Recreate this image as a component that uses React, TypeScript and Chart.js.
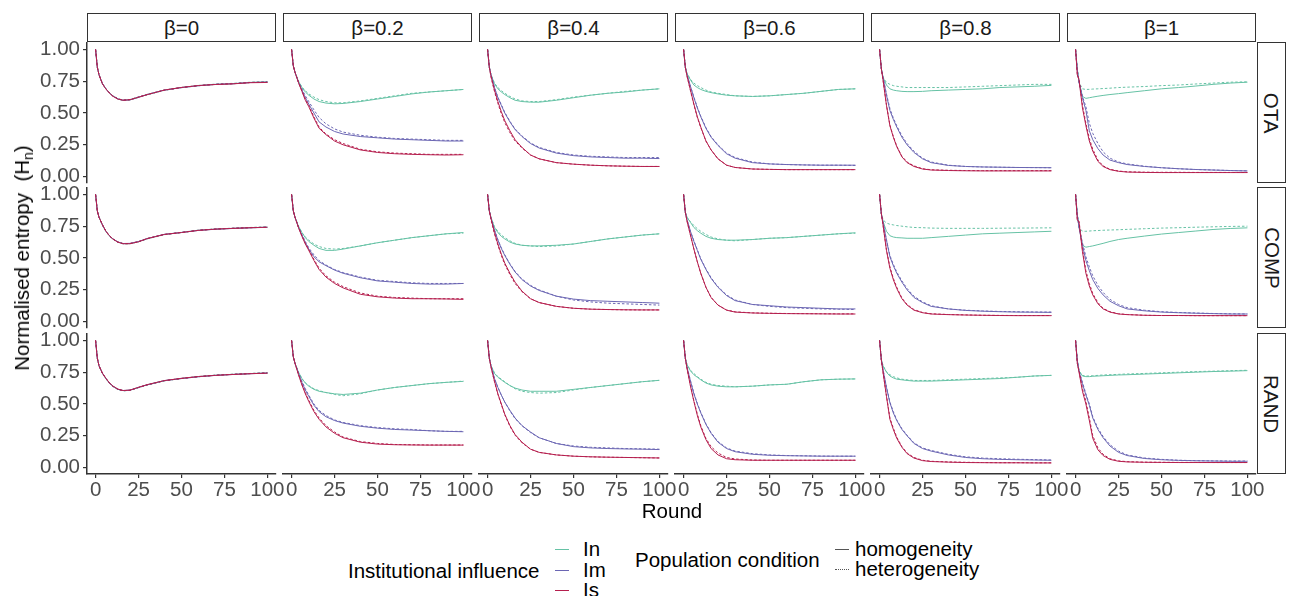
import React, { useEffect, useRef } from "react";
import { Chart, registerables } from "chart.js";
Chart.register(...registerables);

// ---------------- data ----------------
const rounds = [0, 1, 2, 4, 6, 8, 10, 13, 16, 20, 25, 30, 40, 50, 60, 70, 80, 90, 100];
const betaLabels = ["β=0", "β=0.2", "β=0.4", "β=0.6", "β=0.8", "β=1"];
const conditionLabels = ["OTA", "COMP", "RAND"];
const influenceLabels = ["In", "Im", "Is"];
const populationLabels = ["homogeneity", "heterogeneity"];
const xTickValues = [0, 25, 50, 75, 100];
const yTickValues = [0, 0.25, 0.5, 0.75, 1];

// ---- OTA ----
const OTA_b0_In_hom = [1.0, 0.86, 0.8, 0.73, 0.69, 0.66, 0.635, 0.61, 0.6, 0.605, 0.625, 0.645, 0.68, 0.7, 0.715, 0.725, 0.73, 0.74, 0.745];
const OTA_b0_In_het = [1.0, 0.86, 0.8, 0.73, 0.69, 0.66, 0.635, 0.612, 0.598, 0.602, 0.622, 0.643, 0.678, 0.7, 0.717, 0.727, 0.733, 0.742, 0.745];
const OTA_b0_Im_hom = [1.0, 0.86, 0.8, 0.73, 0.69, 0.658, 0.633, 0.61, 0.6, 0.603, 0.623, 0.645, 0.68, 0.7, 0.715, 0.725, 0.73, 0.74, 0.742];
const OTA_b0_Im_het = [1.0, 0.86, 0.8, 0.73, 0.69, 0.66, 0.636, 0.612, 0.602, 0.606, 0.626, 0.646, 0.679, 0.699, 0.714, 0.726, 0.731, 0.739, 0.744];
const OTA_b0_Is_hom = [1.0, 0.86, 0.8, 0.728, 0.688, 0.657, 0.632, 0.609, 0.6, 0.604, 0.624, 0.644, 0.68, 0.701, 0.716, 0.724, 0.729, 0.738, 0.74];
const OTA_b0_Is_het = [1.0, 0.86, 0.8, 0.73, 0.69, 0.66, 0.634, 0.611, 0.601, 0.605, 0.625, 0.645, 0.68, 0.7, 0.715, 0.725, 0.73, 0.74, 0.742];

const OTA_b02_In_hom = [1.0, 0.87, 0.82, 0.75, 0.7, 0.665, 0.64, 0.61, 0.59, 0.578, 0.572, 0.575, 0.59, 0.61, 0.63, 0.65, 0.665, 0.675, 0.685];
const OTA_b02_In_het = [1.0, 0.87, 0.82, 0.75, 0.705, 0.675, 0.65, 0.625, 0.605, 0.59, 0.58, 0.58, 0.595, 0.615, 0.635, 0.655, 0.665, 0.675, 0.685];
const OTA_b02_Im_hom = [1.0, 0.87, 0.82, 0.74, 0.68, 0.62, 0.57, 0.5, 0.43, 0.39, 0.355, 0.335, 0.315, 0.305, 0.295, 0.29, 0.285, 0.28, 0.28];
const OTA_b02_Im_het = [1.0, 0.87, 0.82, 0.745, 0.69, 0.635, 0.59, 0.525, 0.465, 0.415, 0.375, 0.35, 0.325, 0.31, 0.3, 0.295, 0.29, 0.285, 0.285];
const OTA_b02_Is_hom = [1.0, 0.87, 0.82, 0.74, 0.67, 0.6, 0.55, 0.46, 0.38, 0.33, 0.28, 0.25, 0.21, 0.19, 0.18, 0.175, 0.172, 0.17, 0.172];
const OTA_b02_Is_het = [1.0, 0.87, 0.82, 0.74, 0.675, 0.61, 0.56, 0.47, 0.39, 0.335, 0.29, 0.26, 0.215, 0.195, 0.185, 0.18, 0.175, 0.175, 0.175];

const OTA_b04_In_hom = [1.0, 0.86, 0.8, 0.73, 0.69, 0.665, 0.645, 0.62, 0.6, 0.59, 0.585, 0.585, 0.6, 0.62, 0.64, 0.655, 0.665, 0.68, 0.69];
const OTA_b04_In_het = [1.0, 0.86, 0.8, 0.735, 0.7, 0.675, 0.655, 0.63, 0.61, 0.595, 0.59, 0.59, 0.605, 0.625, 0.64, 0.655, 0.67, 0.68, 0.69];
const OTA_b04_Im_hom = [1.0, 0.86, 0.8, 0.7, 0.62, 0.56, 0.5, 0.43, 0.37, 0.315, 0.26, 0.225, 0.185, 0.165, 0.155, 0.15, 0.145, 0.145, 0.142];
const OTA_b04_Im_het = [1.0, 0.86, 0.8, 0.7, 0.625, 0.565, 0.505, 0.435, 0.375, 0.32, 0.265, 0.23, 0.19, 0.17, 0.16, 0.155, 0.15, 0.15, 0.15];
const OTA_b04_Is_hom = [1.0, 0.86, 0.79, 0.68, 0.59, 0.51, 0.44, 0.36, 0.29, 0.23, 0.17, 0.14, 0.11, 0.098, 0.09, 0.085, 0.082, 0.08, 0.08];
const OTA_b04_Is_het = [1.0, 0.86, 0.78, 0.67, 0.575, 0.495, 0.425, 0.345, 0.28, 0.225, 0.17, 0.14, 0.11, 0.098, 0.09, 0.085, 0.082, 0.08, 0.08];

const OTA_b06_In_hom = [1.0, 0.86, 0.81, 0.76, 0.72, 0.7, 0.685, 0.67, 0.66, 0.65, 0.64, 0.635, 0.63, 0.635, 0.645, 0.655, 0.67, 0.685, 0.69];
const OTA_b06_In_het = [1.0, 0.86, 0.81, 0.765, 0.735, 0.715, 0.7, 0.68, 0.665, 0.655, 0.645, 0.635, 0.63, 0.635, 0.645, 0.655, 0.67, 0.685, 0.69];
const OTA_b06_Im_hom = [1.0, 0.86, 0.8, 0.71, 0.62, 0.54, 0.47, 0.38, 0.31, 0.245, 0.18, 0.145, 0.11, 0.1, 0.095, 0.092, 0.09, 0.09, 0.09];
const OTA_b06_Im_het = [1.0, 0.86, 0.8, 0.71, 0.625, 0.545, 0.475, 0.385, 0.315, 0.25, 0.185, 0.15, 0.115, 0.1, 0.095, 0.092, 0.09, 0.09, 0.088];
const OTA_b06_Is_hom = [1.0, 0.86, 0.79, 0.68, 0.57, 0.47, 0.39, 0.28, 0.21, 0.14, 0.09, 0.072, 0.06, 0.057, 0.055, 0.055, 0.055, 0.055, 0.055];
const OTA_b06_Is_het = [1.0, 0.86, 0.79, 0.675, 0.565, 0.465, 0.385, 0.28, 0.21, 0.14, 0.09, 0.072, 0.06, 0.057, 0.055, 0.055, 0.055, 0.055, 0.055];

const OTA_b08_In_hom = [1.0, 0.85, 0.78, 0.72, 0.69, 0.68, 0.675, 0.67, 0.668, 0.668, 0.67, 0.675, 0.68, 0.685, 0.69, 0.7, 0.705, 0.71, 0.717];
const OTA_b08_In_het = [1.0, 0.85, 0.78, 0.74, 0.725, 0.715, 0.71, 0.705, 0.7, 0.7, 0.7, 0.7, 0.7, 0.705, 0.71, 0.715, 0.72, 0.725, 0.725];
const OTA_b08_Im_hom = [1.0, 0.85, 0.78, 0.64, 0.52, 0.45, 0.39, 0.31, 0.25, 0.19, 0.14, 0.11, 0.088, 0.08, 0.076, 0.074, 0.072, 0.071, 0.07];
const OTA_b08_Im_het = [1.0, 0.85, 0.78, 0.65, 0.535, 0.46, 0.4, 0.32, 0.26, 0.2, 0.145, 0.115, 0.09, 0.08, 0.076, 0.074, 0.072, 0.071, 0.07];
const OTA_b08_Is_hom = [1.0, 0.85, 0.76, 0.56, 0.4, 0.31, 0.235, 0.155, 0.11, 0.08, 0.06, 0.052, 0.048, 0.046, 0.045, 0.045, 0.045, 0.045, 0.045];
const OTA_b08_Is_het = [1.0, 0.85, 0.76, 0.565, 0.405, 0.315, 0.24, 0.16, 0.115, 0.085, 0.062, 0.054, 0.05, 0.048, 0.047, 0.047, 0.047, 0.047, 0.047];

const OTA_b1_In_hom = [1.0, 0.84, 0.75, 0.63, 0.615, 0.62, 0.625, 0.632, 0.638, 0.645, 0.652, 0.66, 0.675, 0.69, 0.7, 0.712, 0.725, 0.735, 0.742];
const OTA_b1_In_het = [1.0, 0.84, 0.74, 0.69, 0.685, 0.686, 0.688, 0.69, 0.692, 0.695, 0.7, 0.703, 0.708, 0.715, 0.72, 0.728, 0.735, 0.742, 0.745];
const OTA_b1_Im_hom = [1.0, 0.84, 0.74, 0.62, 0.52, 0.36, 0.29, 0.22, 0.17, 0.13, 0.11, 0.095, 0.08, 0.07, 0.062, 0.056, 0.052, 0.048, 0.045];
const OTA_b1_Im_het = [1.0, 0.84, 0.74, 0.63, 0.55, 0.42, 0.34, 0.26, 0.195, 0.145, 0.115, 0.1, 0.082, 0.07, 0.062, 0.056, 0.052, 0.048, 0.045];
const OTA_b1_Is_hom = [1.0, 0.8, 0.76, 0.54, 0.4, 0.28, 0.2, 0.12, 0.08, 0.055, 0.042, 0.036, 0.033, 0.032, 0.032, 0.032, 0.032, 0.032, 0.032];
const OTA_b1_Is_het = [1.0, 0.8, 0.77, 0.56, 0.42, 0.3, 0.215, 0.13, 0.085, 0.058, 0.044, 0.038, 0.035, 0.034, 0.034, 0.033, 0.033, 0.033, 0.033];

// ---- COMP ----
const COMP_b0_In_hom = [1.0, 0.87, 0.82, 0.76, 0.71, 0.675, 0.65, 0.625, 0.613, 0.613, 0.628, 0.652, 0.685, 0.7, 0.718, 0.727, 0.733, 0.738, 0.742];
const COMP_b0_In_het = [1.0, 0.87, 0.82, 0.758, 0.708, 0.673, 0.648, 0.623, 0.611, 0.612, 0.627, 0.65, 0.683, 0.702, 0.719, 0.728, 0.734, 0.74, 0.744];
const COMP_b0_Im_hom = [1.0, 0.87, 0.82, 0.76, 0.71, 0.676, 0.651, 0.626, 0.614, 0.615, 0.63, 0.653, 0.686, 0.701, 0.717, 0.726, 0.732, 0.737, 0.741];
const COMP_b0_Im_het = [1.0, 0.87, 0.82, 0.759, 0.709, 0.674, 0.649, 0.624, 0.612, 0.613, 0.628, 0.651, 0.684, 0.7, 0.718, 0.728, 0.734, 0.739, 0.743];
const COMP_b0_Is_hom = [1.0, 0.87, 0.82, 0.761, 0.711, 0.676, 0.65, 0.624, 0.612, 0.612, 0.627, 0.652, 0.685, 0.7, 0.717, 0.727, 0.733, 0.738, 0.742];
const COMP_b0_Is_het = [1.0, 0.87, 0.82, 0.76, 0.71, 0.675, 0.65, 0.625, 0.613, 0.614, 0.629, 0.653, 0.685, 0.701, 0.718, 0.727, 0.733, 0.738, 0.741];

const COMP_b02_In_hom = [1.0, 0.87, 0.82, 0.75, 0.7, 0.66, 0.63, 0.6, 0.575, 0.56, 0.56, 0.57, 0.595, 0.62, 0.64, 0.66, 0.675, 0.69, 0.7];
const COMP_b02_In_het = [1.0, 0.87, 0.82, 0.75, 0.7, 0.665, 0.64, 0.61, 0.59, 0.575, 0.57, 0.575, 0.595, 0.62, 0.64, 0.66, 0.675, 0.69, 0.695];
const COMP_b02_Im_hom = [1.0, 0.87, 0.82, 0.74, 0.68, 0.62, 0.57, 0.51, 0.47, 0.44, 0.405, 0.38, 0.345, 0.32, 0.31, 0.3, 0.295, 0.295, 0.3];
const COMP_b02_Im_het = [1.0, 0.87, 0.82, 0.745, 0.685, 0.63, 0.58, 0.525, 0.48, 0.445, 0.41, 0.385, 0.35, 0.325, 0.315, 0.305, 0.3, 0.3, 0.3];
const COMP_b02_Is_hom = [1.0, 0.87, 0.82, 0.74, 0.67, 0.61, 0.56, 0.48, 0.41, 0.35, 0.3, 0.265, 0.215, 0.195, 0.185, 0.18, 0.18, 0.178, 0.175];
const COMP_b02_Is_het = [1.0, 0.87, 0.82, 0.74, 0.675, 0.615, 0.565, 0.49, 0.42, 0.36, 0.31, 0.275, 0.225, 0.2, 0.19, 0.185, 0.18, 0.18, 0.18];

const COMP_b04_In_hom = [1.0, 0.87, 0.82, 0.74, 0.7, 0.67, 0.65, 0.625, 0.61, 0.6, 0.595, 0.595, 0.6, 0.61, 0.63, 0.65, 0.665, 0.68, 0.69];
const COMP_b04_In_het = [1.0, 0.87, 0.82, 0.745, 0.71, 0.68, 0.66, 0.635, 0.615, 0.6, 0.595, 0.59, 0.595, 0.61, 0.63, 0.65, 0.665, 0.68, 0.69];
const COMP_b04_Im_hom = [1.0, 0.87, 0.81, 0.72, 0.64, 0.575, 0.52, 0.45, 0.39, 0.33, 0.28, 0.245, 0.2, 0.177, 0.165, 0.16, 0.155, 0.15, 0.145];
const COMP_b04_Im_het = [1.0, 0.87, 0.81, 0.72, 0.645, 0.58, 0.525, 0.455, 0.395, 0.335, 0.285, 0.25, 0.2, 0.17, 0.155, 0.145, 0.14, 0.135, 0.13];
const COMP_b04_Is_hom = [1.0, 0.87, 0.81, 0.7, 0.61, 0.53, 0.46, 0.38, 0.31, 0.24, 0.18, 0.15, 0.12, 0.105, 0.098, 0.095, 0.093, 0.092, 0.092];
const COMP_b04_Is_het = [1.0, 0.87, 0.8, 0.69, 0.6, 0.52, 0.45, 0.37, 0.3, 0.235, 0.18, 0.15, 0.12, 0.105, 0.098, 0.095, 0.093, 0.092, 0.092];

const COMP_b06_In_hom = [1.0, 0.86, 0.82, 0.78, 0.74, 0.715, 0.695, 0.67, 0.655, 0.645, 0.64, 0.64, 0.645, 0.655, 0.66, 0.67, 0.68, 0.69, 0.698];
const COMP_b06_In_het = [1.0, 0.86, 0.82, 0.785, 0.755, 0.73, 0.71, 0.685, 0.665, 0.65, 0.64, 0.635, 0.645, 0.655, 0.66, 0.67, 0.68, 0.69, 0.695];
const COMP_b06_Im_hom = [1.0, 0.86, 0.8, 0.71, 0.63, 0.56, 0.49, 0.41, 0.34, 0.27, 0.205, 0.165, 0.135, 0.125, 0.115, 0.11, 0.105, 0.1, 0.1];
const COMP_b06_Im_het = [1.0, 0.86, 0.8, 0.71, 0.635, 0.565, 0.495, 0.415, 0.345, 0.275, 0.21, 0.17, 0.135, 0.12, 0.11, 0.105, 0.1, 0.098, 0.095];
const COMP_b06_Is_hom = [1.0, 0.86, 0.79, 0.68, 0.57, 0.47, 0.38, 0.27, 0.19, 0.13, 0.09, 0.075, 0.068, 0.065, 0.063, 0.062, 0.061, 0.06, 0.06];
const COMP_b06_Is_het = [1.0, 0.86, 0.79, 0.68, 0.57, 0.47, 0.38, 0.27, 0.19, 0.13, 0.092, 0.077, 0.069, 0.066, 0.064, 0.063, 0.062, 0.061, 0.061];

const COMP_b08_In_hom = [1.0, 0.85, 0.79, 0.71, 0.675, 0.665, 0.66, 0.658, 0.655, 0.655, 0.655, 0.66, 0.67, 0.68, 0.69, 0.695, 0.7, 0.705, 0.71];
const COMP_b08_In_het = [1.0, 0.85, 0.8, 0.775, 0.765, 0.76, 0.755, 0.75, 0.745, 0.74, 0.738, 0.735, 0.733, 0.733, 0.733, 0.734, 0.735, 0.736, 0.737];
const COMP_b08_Im_hom = [1.0, 0.85, 0.78, 0.64, 0.51, 0.44, 0.38, 0.31, 0.25, 0.19, 0.15, 0.12, 0.1, 0.088, 0.082, 0.078, 0.075, 0.074, 0.073];
const COMP_b08_Im_het = [1.0, 0.85, 0.78, 0.645, 0.52, 0.45, 0.39, 0.32, 0.26, 0.2, 0.155, 0.125, 0.1, 0.09, 0.084, 0.08, 0.078, 0.076, 0.075];
const COMP_b08_Is_hom = [1.0, 0.85, 0.76, 0.56, 0.42, 0.33, 0.26, 0.18, 0.13, 0.09, 0.07, 0.06, 0.055, 0.052, 0.05, 0.048, 0.047, 0.047, 0.047];
const COMP_b08_Is_het = [1.0, 0.85, 0.76, 0.565, 0.43, 0.34, 0.27, 0.185, 0.135, 0.095, 0.072, 0.062, 0.056, 0.053, 0.05, 0.049, 0.048, 0.048, 0.048];

const COMP_b1_In_hom = [1.0, 0.84, 0.75, 0.6, 0.585, 0.59, 0.595, 0.605, 0.615, 0.63, 0.645, 0.655, 0.672, 0.688, 0.7, 0.712, 0.724, 0.732, 0.737];
const COMP_b1_In_het = [1.0, 0.84, 0.74, 0.71, 0.71, 0.712, 0.714, 0.716, 0.718, 0.72, 0.722, 0.725, 0.73, 0.735, 0.738, 0.742, 0.745, 0.748, 0.75];
const COMP_b1_Im_hom = [1.0, 0.84, 0.74, 0.6, 0.48, 0.4, 0.33, 0.26, 0.21, 0.16, 0.125, 0.1, 0.085, 0.075, 0.07, 0.066, 0.063, 0.06, 0.06];
const COMP_b1_Im_het = [1.0, 0.84, 0.74, 0.62, 0.51, 0.43, 0.36, 0.285, 0.23, 0.175, 0.135, 0.11, 0.09, 0.078, 0.072, 0.068, 0.064, 0.062, 0.06];
const COMP_b1_Is_hom = [1.0, 0.8, 0.78, 0.55, 0.38, 0.28, 0.21, 0.14, 0.1, 0.075, 0.06, 0.055, 0.05, 0.048, 0.048, 0.047, 0.047, 0.047, 0.047];
const COMP_b1_Is_het = [1.0, 0.8, 0.79, 0.57, 0.4, 0.3, 0.22, 0.15, 0.105, 0.078, 0.062, 0.056, 0.05, 0.048, 0.048, 0.047, 0.047, 0.047, 0.047];

// ---- RAND ----
const RAND_b0_In_hom = [1.0, 0.86, 0.8, 0.74, 0.7, 0.665, 0.64, 0.615, 0.605, 0.608, 0.63, 0.65, 0.683, 0.7, 0.715, 0.726, 0.733, 0.739, 0.744];
const RAND_b0_In_het = [1.0, 0.86, 0.8, 0.738, 0.698, 0.663, 0.638, 0.613, 0.603, 0.607, 0.628, 0.649, 0.682, 0.701, 0.716, 0.727, 0.734, 0.74, 0.745];
const RAND_b0_Im_hom = [1.0, 0.86, 0.8, 0.741, 0.701, 0.666, 0.641, 0.616, 0.606, 0.609, 0.631, 0.651, 0.684, 0.7, 0.714, 0.725, 0.732, 0.738, 0.743];
const RAND_b0_Im_het = [1.0, 0.86, 0.8, 0.74, 0.7, 0.664, 0.639, 0.614, 0.604, 0.608, 0.629, 0.65, 0.683, 0.701, 0.715, 0.726, 0.733, 0.739, 0.744];
const RAND_b0_Is_hom = [1.0, 0.86, 0.8, 0.742, 0.702, 0.667, 0.642, 0.617, 0.606, 0.609, 0.631, 0.652, 0.684, 0.702, 0.716, 0.725, 0.732, 0.738, 0.742];
const RAND_b0_Is_het = [1.0, 0.86, 0.8, 0.74, 0.7, 0.665, 0.64, 0.615, 0.605, 0.608, 0.63, 0.65, 0.683, 0.7, 0.715, 0.726, 0.733, 0.739, 0.744];

const RAND_b02_In_hom = [1.0, 0.87, 0.82, 0.75, 0.7, 0.665, 0.64, 0.615, 0.6, 0.59, 0.58, 0.575, 0.585, 0.61, 0.63, 0.645, 0.66, 0.67, 0.678];
const RAND_b02_In_het = [1.0, 0.87, 0.82, 0.75, 0.7, 0.665, 0.645, 0.62, 0.605, 0.59, 0.575, 0.565, 0.58, 0.61, 0.63, 0.645, 0.66, 0.67, 0.68];
const RAND_b02_Im_hom = [1.0, 0.87, 0.82, 0.74, 0.67, 0.61, 0.56, 0.49, 0.44, 0.4, 0.37, 0.35, 0.325, 0.31, 0.3, 0.295, 0.29, 0.285, 0.282];
const RAND_b02_Im_het = [1.0, 0.87, 0.82, 0.745, 0.68, 0.62, 0.57, 0.5, 0.45, 0.41, 0.375, 0.355, 0.33, 0.315, 0.305, 0.3, 0.29, 0.285, 0.285];
const RAND_b02_Is_hom = [1.0, 0.87, 0.82, 0.73, 0.65, 0.58, 0.52, 0.44, 0.38, 0.32, 0.27, 0.235, 0.2, 0.185, 0.18, 0.178, 0.177, 0.177, 0.177];
const RAND_b02_Is_het = [1.0, 0.87, 0.82, 0.735, 0.655, 0.59, 0.53, 0.45, 0.39, 0.33, 0.28, 0.24, 0.205, 0.19, 0.182, 0.18, 0.178, 0.178, 0.178];

const RAND_b04_In_hom = [1.0, 0.86, 0.8, 0.74, 0.71, 0.69, 0.67, 0.645, 0.625, 0.61, 0.6, 0.6, 0.6, 0.615, 0.63, 0.645, 0.66, 0.675, 0.686];
const RAND_b04_In_het = [1.0, 0.86, 0.8, 0.745, 0.715, 0.695, 0.675, 0.645, 0.62, 0.6, 0.59, 0.585, 0.59, 0.61, 0.63, 0.645, 0.66, 0.675, 0.686];
const RAND_b04_Im_hom = [1.0, 0.86, 0.8, 0.7, 0.63, 0.57, 0.515, 0.45, 0.39, 0.33, 0.28, 0.235, 0.19, 0.165, 0.155, 0.15, 0.147, 0.145, 0.142];
const RAND_b04_Im_het = [1.0, 0.86, 0.8, 0.7, 0.63, 0.57, 0.515, 0.445, 0.385, 0.33, 0.275, 0.235, 0.19, 0.17, 0.16, 0.155, 0.15, 0.148, 0.145];
const RAND_b04_Is_hom = [1.0, 0.86, 0.79, 0.68, 0.58, 0.5, 0.42, 0.33, 0.26, 0.2, 0.145, 0.12, 0.1, 0.09, 0.085, 0.082, 0.08, 0.078, 0.076];
const RAND_b04_Is_het = [1.0, 0.86, 0.79, 0.675, 0.575, 0.495, 0.415, 0.325, 0.255, 0.195, 0.145, 0.12, 0.1, 0.09, 0.085, 0.082, 0.08, 0.078, 0.076];

const RAND_b06_In_hom = [1.0, 0.86, 0.81, 0.76, 0.73, 0.71, 0.69, 0.665, 0.65, 0.64, 0.635, 0.635, 0.64, 0.65, 0.655, 0.675, 0.69, 0.695, 0.697];
const RAND_b06_In_het = [1.0, 0.86, 0.81, 0.765, 0.74, 0.715, 0.695, 0.67, 0.655, 0.645, 0.64, 0.635, 0.64, 0.65, 0.655, 0.675, 0.69, 0.695, 0.697];
const RAND_b06_Im_hom = [1.0, 0.86, 0.79, 0.68, 0.58, 0.5, 0.43, 0.34, 0.27, 0.2, 0.15, 0.125, 0.105, 0.097, 0.094, 0.092, 0.09, 0.09, 0.09];
const RAND_b06_Im_het = [1.0, 0.86, 0.79, 0.685, 0.585, 0.505, 0.435, 0.345, 0.275, 0.205, 0.155, 0.13, 0.11, 0.1, 0.095, 0.093, 0.091, 0.09, 0.09];
const RAND_b06_Is_hom = [1.0, 0.86, 0.78, 0.64, 0.52, 0.41, 0.32, 0.22, 0.15, 0.1, 0.07, 0.062, 0.058, 0.058, 0.058, 0.058, 0.058, 0.058, 0.058];
const RAND_b06_Is_het = [1.0, 0.86, 0.78, 0.645, 0.525, 0.42, 0.33, 0.23, 0.165, 0.115, 0.08, 0.068, 0.06, 0.058, 0.058, 0.058, 0.058, 0.058, 0.058];

const RAND_b08_In_hom = [1.0, 0.85, 0.8, 0.75, 0.72, 0.705, 0.695, 0.69, 0.685, 0.68, 0.68, 0.68, 0.685, 0.69, 0.695, 0.7, 0.71, 0.72, 0.725];
const RAND_b08_In_het = [1.0, 0.85, 0.8, 0.755, 0.73, 0.715, 0.705, 0.695, 0.69, 0.685, 0.685, 0.685, 0.69, 0.695, 0.7, 0.705, 0.71, 0.72, 0.725];
const RAND_b08_Im_hom = [1.0, 0.85, 0.77, 0.63, 0.51, 0.43, 0.37, 0.3, 0.25, 0.19, 0.15, 0.13, 0.1, 0.08, 0.07, 0.065, 0.062, 0.06, 0.058];
const RAND_b08_Im_het = [1.0, 0.85, 0.77, 0.635, 0.515, 0.44, 0.375, 0.305, 0.255, 0.195, 0.155, 0.135, 0.105, 0.085, 0.075, 0.07, 0.066, 0.063, 0.06];
const RAND_b08_Is_hom = [1.0, 0.85, 0.75, 0.56, 0.38, 0.3, 0.23, 0.16, 0.11, 0.075, 0.055, 0.048, 0.043, 0.04, 0.039, 0.038, 0.038, 0.037, 0.037];
const RAND_b08_Is_het = [1.0, 0.85, 0.75, 0.565, 0.39, 0.31, 0.24, 0.165, 0.115, 0.08, 0.058, 0.05, 0.045, 0.042, 0.04, 0.039, 0.039, 0.038, 0.038];

const RAND_b1_In_hom = [1.0, 0.84, 0.76, 0.72, 0.715, 0.715, 0.718, 0.72, 0.722, 0.725, 0.728, 0.73, 0.735, 0.74, 0.745, 0.75, 0.755, 0.758, 0.762];
const RAND_b1_In_het = [1.0, 0.84, 0.76, 0.725, 0.72, 0.72, 0.722, 0.725, 0.728, 0.73, 0.733, 0.736, 0.74, 0.745, 0.75, 0.755, 0.758, 0.762, 0.765];
const RAND_b1_Im_hom = [1.0, 0.84, 0.76, 0.66, 0.57, 0.49, 0.39, 0.3, 0.235, 0.17, 0.12, 0.095, 0.072, 0.062, 0.057, 0.054, 0.052, 0.05, 0.05];
const RAND_b1_Im_het = [1.0, 0.84, 0.76, 0.67, 0.58, 0.5, 0.4, 0.31, 0.245, 0.18, 0.13, 0.1, 0.076, 0.065, 0.058, 0.055, 0.053, 0.052, 0.052];
const RAND_b1_Is_hom = [1.0, 0.82, 0.75, 0.6, 0.5, 0.37, 0.23, 0.14, 0.095, 0.065, 0.05, 0.045, 0.042, 0.041, 0.04, 0.04, 0.04, 0.04, 0.04];
const RAND_b1_Is_het = [1.0, 0.82, 0.76, 0.62, 0.52, 0.39, 0.25, 0.155, 0.105, 0.07, 0.053, 0.047, 0.043, 0.042, 0.041, 0.041, 0.04, 0.04, 0.04];

// panel table: [row][col] -> [In_hom, In_het, Im_hom, Im_het, Is_hom, Is_het]
const panels: number[][][][] = [
  [
    [OTA_b0_In_hom, OTA_b0_In_het, OTA_b0_Im_hom, OTA_b0_Im_het, OTA_b0_Is_hom, OTA_b0_Is_het],
    [OTA_b02_In_hom, OTA_b02_In_het, OTA_b02_Im_hom, OTA_b02_Im_het, OTA_b02_Is_hom, OTA_b02_Is_het],
    [OTA_b04_In_hom, OTA_b04_In_het, OTA_b04_Im_hom, OTA_b04_Im_het, OTA_b04_Is_hom, OTA_b04_Is_het],
    [OTA_b06_In_hom, OTA_b06_In_het, OTA_b06_Im_hom, OTA_b06_Im_het, OTA_b06_Is_hom, OTA_b06_Is_het],
    [OTA_b08_In_hom, OTA_b08_In_het, OTA_b08_Im_hom, OTA_b08_Im_het, OTA_b08_Is_hom, OTA_b08_Is_het],
    [OTA_b1_In_hom, OTA_b1_In_het, OTA_b1_Im_hom, OTA_b1_Im_het, OTA_b1_Is_hom, OTA_b1_Is_het],
  ],
  [
    [COMP_b0_In_hom, COMP_b0_In_het, COMP_b0_Im_hom, COMP_b0_Im_het, COMP_b0_Is_hom, COMP_b0_Is_het],
    [COMP_b02_In_hom, COMP_b02_In_het, COMP_b02_Im_hom, COMP_b02_Im_het, COMP_b02_Is_hom, COMP_b02_Is_het],
    [COMP_b04_In_hom, COMP_b04_In_het, COMP_b04_Im_hom, COMP_b04_Im_het, COMP_b04_Is_hom, COMP_b04_Is_het],
    [COMP_b06_In_hom, COMP_b06_In_het, COMP_b06_Im_hom, COMP_b06_Im_het, COMP_b06_Is_hom, COMP_b06_Is_het],
    [COMP_b08_In_hom, COMP_b08_In_het, COMP_b08_Im_hom, COMP_b08_Im_het, COMP_b08_Is_hom, COMP_b08_Is_het],
    [COMP_b1_In_hom, COMP_b1_In_het, COMP_b1_Im_hom, COMP_b1_Im_het, COMP_b1_Is_hom, COMP_b1_Is_het],
  ],
  [
    [RAND_b0_In_hom, RAND_b0_In_het, RAND_b0_Im_hom, RAND_b0_Im_het, RAND_b0_Is_hom, RAND_b0_Is_het],
    [RAND_b02_In_hom, RAND_b02_In_het, RAND_b02_Im_hom, RAND_b02_Im_het, RAND_b02_Is_hom, RAND_b02_Is_het],
    [RAND_b04_In_hom, RAND_b04_In_het, RAND_b04_Im_hom, RAND_b04_Im_het, RAND_b04_Is_hom, RAND_b04_Is_het],
    [RAND_b06_In_hom, RAND_b06_In_het, RAND_b06_Im_hom, RAND_b06_Im_het, RAND_b06_Is_hom, RAND_b06_Is_het],
    [RAND_b08_In_hom, RAND_b08_In_het, RAND_b08_Im_hom, RAND_b08_Im_het, RAND_b08_Is_hom, RAND_b08_Is_het],
    [RAND_b1_In_hom, RAND_b1_In_het, RAND_b1_Im_hom, RAND_b1_Im_het, RAND_b1_Is_hom, RAND_b1_Is_het],
  ],
];

// ---------------- style / layout ----------------
const FONT = "'Liberation Sans', Arial, Helvetica, sans-serif";
const influenceColors = ["#66c2a5", "#6b66b3", "#b51f4e"];
const AXIS = "#333333";
const TICKTXT = "#4d4d4d";
const panelLefts = [87, 283, 479, 675, 871, 1067];
const panelTops = [43, 188, 334];
const PW = 189;
const PH = 140;
const PAD = 18;
const YAXIS_W = 87;
const XAXIS_H = 40;
const FS = 20.5;

function Panel({ row, col }: { row: number; col: number }) {
  const ref = useRef<HTMLCanvasElement | null>(null);
  const showY = col === 0;
  const showX = row === 2;
  const left = showY ? 0 : panelLefts[col] - PAD;
  const top = panelTops[row] - PAD;
  const width = (showY ? YAXIS_W : PAD) + PW + PAD;
  const height = PAD + PH + (showX ? XAXIS_H : PAD);

  useEffect(() => {
    const series = panels[row][col];
    const datasets: any[] = [];
    // Is drawn on top: first dataset is drawn last in Chart.js
    [2, 1, 0].forEach((i) => {
      [0, 1].forEach((j) => {
        datasets.push({
          label: influenceLabels[i] + " " + populationLabels[j],
          data: rounds.map((r, k) => ({ x: r, y: series[i * 2 + j][k] })),
          borderColor: influenceColors[i],
          borderWidth: 1,
          borderDash: j === 1 ? [2.5, 2] : [],
          pointRadius: 0,
          tension: 0,
          fill: false,
        });
      });
    });
    const zeroPad = (s: any) => {
      s.paddingLeft = 0;
      s.paddingRight = 0;
      s.paddingTop = 0;
      s.paddingBottom = 0;
    };
    const chart = new Chart(ref.current as HTMLCanvasElement, {
      type: "line",
      data: { datasets },
      options: {
        animation: false,
        responsive: false,
        maintainAspectRatio: false,
        events: [],
        layout: {
          padding: { left: showY ? 0 : PAD, right: PAD, top: PAD, bottom: showX ? 0 : PAD },
        },
        plugins: { legend: { display: false }, tooltip: { enabled: false } },
        scales: {
          x: {
            type: "linear",
            min: -5,
            max: 105,
            display: showX,
            afterBuildTicks: (s: any) => {
              s.ticks = xTickValues.map((v) => ({ value: v }));
            },
            afterFit: (s: any) => {
              if (showX) s.height = XAXIS_H;
              zeroPad(s);
            },
            grid: { drawOnChartArea: false, drawTicks: true, tickLength: 4, color: AXIS, lineWidth: 1.2 },
            border: { display: true, color: AXIS, width: 1.5 },
            ticks: {
              color: TICKTXT,
              font: { family: FONT, size: FS },
              padding: 0,
              maxRotation: 0,
              minRotation: 0,
              autoSkip: false,
              callback: (v: any) => String(v),
            },
          },
          y: {
            type: "linear",
            min: -0.05,
            max: 1.05,
            display: showY,
            afterBuildTicks: (s: any) => {
              s.ticks = yTickValues.map((v) => ({ value: v }));
            },
            afterFit: (s: any) => {
              if (showY) s.width = YAXIS_W;
              zeroPad(s);
            },
            grid: { drawOnChartArea: false, drawTicks: true, tickLength: 4, color: AXIS, lineWidth: 1.2 },
            border: { display: true, color: AXIS, width: 1.5 },
            ticks: {
              color: TICKTXT,
              font: { family: FONT, size: FS },
              padding: 3,
              autoSkip: false,
              callback: (v: any) => Number(v).toFixed(2),
            },
          },
        },
      },
    });
    return () => chart.destroy();
  }, [row, col]);

  return (
    <canvas
      ref={ref}
      width={width}
      height={height}
      style={{ position: "absolute", left, top, width, height }}
    />
  );
}

const textBase: React.CSSProperties = {
  position: "absolute",
  fontFamily: FONT,
  fontSize: FS,
  whiteSpace: "nowrap",
  lineHeight: "22px",
};

function KeyLine({ x, y, color, dashed }: { x: number; y: number; color: string; dashed?: boolean }) {
  return (
    <div
      style={{
        position: "absolute",
        left: x,
        top: y,
        width: 14,
        height: 0,
        borderTop: `1px ${dashed ? "dotted" : "solid"} ${color}`,
      }}
    />
  );
}

export default function App() {
  const cells: any[] = [];
  for (let r = 0; r < 3; r++) for (let c = 0; c < 6; c++) cells.push(<Panel key={`${r}-${c}`} row={r} col={c} />);

  return (
    <div style={{ position: "absolute", left: 0, top: 0, width: 1291, height: 596, background: "#fff", overflow: "hidden" }}>
      {/* top strips */}
      {betaLabels.map((b, c) => (
        <div
          key={b}
          style={{
            position: "absolute",
            left: panelLefts[c],
            top: 13,
            width: PW,
            height: 29,
            boxSizing: "border-box",
            border: `1.5px solid ${AXIS}`,
            fontFamily: FONT,
            fontSize: FS,
            color: "#1a1a1a",
            display: "flex",
            alignItems: "center",
            justifyContent: "center",
          }}
        >
          {b}
        </div>
      ))}
      {/* right strips */}
      {conditionLabels.map((t, r) => (
        <div
          key={t}
          style={{
            position: "absolute",
            left: 1257,
            top: panelTops[r] - 1,
            width: 29,
            height: PH + 1,
            boxSizing: "border-box",
            border: `1.5px solid ${AXIS}`,
            fontFamily: FONT,
            fontSize: FS,
            color: "#1a1a1a",
            display: "flex",
            alignItems: "center",
            justifyContent: "center",
          }}
        >
          <span style={{ transform: "rotate(90deg)", whiteSpace: "nowrap", display: "inline-block" }}>{t}</span>
        </div>
      ))}
      {cells}
      {/* y title */}
      <div
        style={{
          ...textBase,
          left: 22,
          top: 258,
          color: "#000",
          transform: "translate(-50%, -50%) rotate(-90deg)",
        }}
      >
        Normalised entropy&nbsp;&nbsp;(H<sub style={{ fontSize: 14, verticalAlign: "-4px", lineHeight: 0 }}>n</sub>)
      </div>
      {/* x title */}
      <div style={{ ...textBase, left: 672, top: 511, color: "#000", transform: "translate(-50%, -50%)" }}>Round</div>

      {/* legend */}
      <div style={{ ...textBase, left: 348, top: 571 - 11, color: "#000" }}>Institutional influence</div>
      {influenceLabels.map((l, i) => (
        <React.Fragment key={l}>
          <KeyLine x={555} y={549 + i * 20.5} color={influenceColors[i]} />
          <div style={{ ...textBase, left: 583, top: 549 + i * 20.5 - 11, color: "#000" }}>{l}</div>
        </React.Fragment>
      ))}
      <div style={{ ...textBase, left: 635, top: 560 - 11, color: "#000" }}>Population condition</div>
      {populationLabels.map((l, j) => (
        <React.Fragment key={l}>
          <KeyLine x={835} y={549 + j * 20} color="#555" dashed={j === 1} />
          <div style={{ ...textBase, left: 855, top: 549 + j * 20 - 11, color: "#000" }}>{l}</div>
        </React.Fragment>
      ))}
    </div>
  );
}
